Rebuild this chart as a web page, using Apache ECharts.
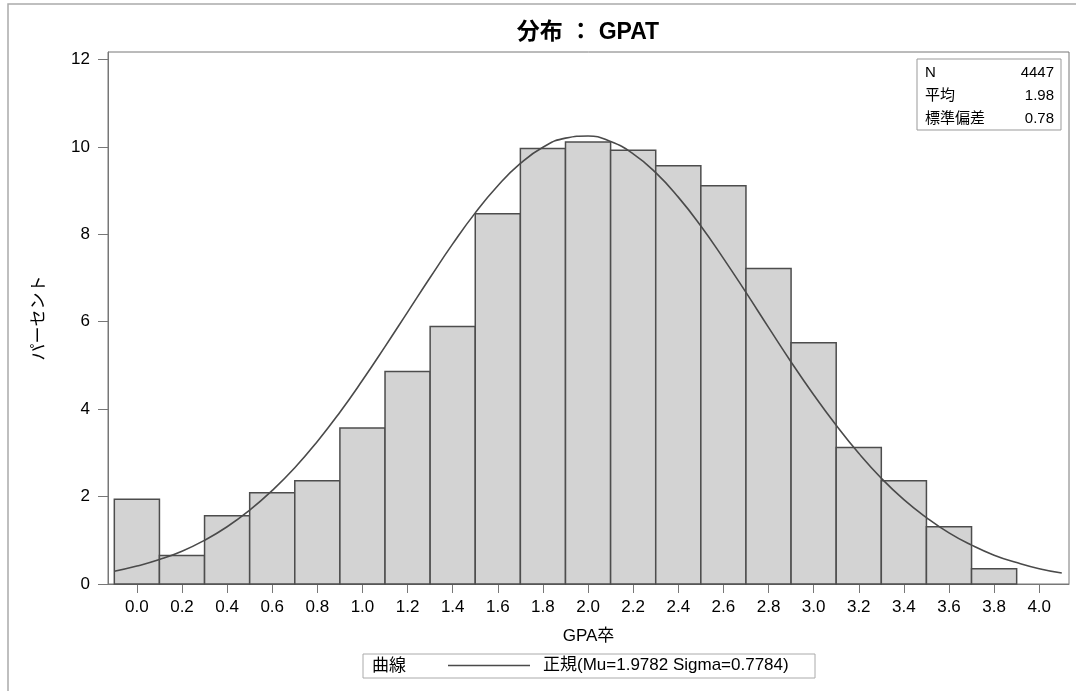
<!DOCTYPE html>
<html>
<head>
<meta charset="utf-8">
<script src="https://cdn.jsdelivr.net/npm/echarts@6/dist/echarts.min.js"></script>
<style>
html,body{margin:0;padding:0;background:#fff;}
#chart{width:1076px;height:691px;}
</style>
</head>
<body>
<div id="chart"></div>
<script>
// ---- data ----
const titleText = '分布 ： GPAT';
const xAxisName = 'GPA卒';
const yAxisName = 'パーセント';
const binWidth = 0.2;
const binCenters = [0.0, 0.2, 0.4, 0.6, 0.8, 1.0, 1.2, 1.4, 1.6, 1.8, 2.0, 2.2, 2.4, 2.6, 2.8, 3.0, 3.2, 3.4, 3.6, 3.8];
const binPercents = [1.94, 0.65, 1.56, 2.09, 2.36, 3.57, 4.86, 5.89, 8.47, 9.96, 10.11, 9.92, 9.57, 9.11, 7.22, 5.52, 3.12, 2.36, 1.31, 0.35];
const curveX = [-0.1, 0.0, 0.1, 0.2, 0.3, 0.4, 0.5, 0.6, 0.7, 0.8, 0.9, 1.0, 1.1, 1.2, 1.3, 1.4, 1.5, 1.6, 1.7, 1.8, 1.9, 2.0, 2.1, 2.2, 2.3, 2.4, 2.5, 2.6, 2.7, 2.8, 2.9, 3.0, 3.1, 3.2, 3.3, 3.4, 3.5, 3.6, 3.7, 3.8, 3.9, 4.0, 4.1];
const curveY = [0.29, 0.41, 0.56, 0.75, 1.00, 1.31, 1.69, 2.14, 2.66, 3.26, 3.93, 4.66, 5.43, 6.22, 7.01, 7.78, 8.49, 9.11, 9.62, 9.99, 10.20, 10.25, 10.12, 9.84, 9.41, 8.85, 8.19, 7.45, 6.67, 5.87, 5.08, 4.33, 3.63, 2.99, 2.42, 1.93, 1.52, 1.17, 0.89, 0.66, 0.49, 0.35, 0.25];
const xTicks = [0.0, 0.2, 0.4, 0.6, 0.8, 1.0, 1.2, 1.4, 1.6, 1.8, 2.0, 2.2, 2.4, 2.6, 2.8, 3.0, 3.2, 3.4, 3.6, 3.8, 4.0];
const yTicks = [0, 2, 4, 6, 8, 10, 12];
const statLabels = ['N', '平均', '標準偏差'];
const statValues = ['4447', '1.98', '0.78'];
const legendTitle = '曲線';
const curveName = '正規(Mu=1.9782 Sigma=0.7784)';

// ---- chart ----
const FONT = "'Liberation Sans', 'Noto Sans CJK JP', sans-serif";
const AXIS_COLOR = '#777';
const chart = echarts.init(document.getElementById('chart'), null, {renderer: 'canvas'});

const statGraphics = [];
statLabels.forEach((lab, i) => {
  statGraphics.push({
    type: 'text', x: 925, y: 73 + i * 23, z: 11,
    style: {text: lab, font: '15px ' + FONT, fill: '#000', textAlign: 'left', textVerticalAlign: 'middle'}
  });
  statGraphics.push({
    type: 'text', x: 1054, y: 73 + i * 23, z: 11,
    style: {text: statValues[i], font: '15px ' + FONT, fill: '#000', textAlign: 'right', textVerticalAlign: 'middle'}
  });
});

const option = {
  animation: false,
  backgroundColor: '#fff',
  textStyle: {fontFamily: FONT},
  title: {
    text: titleText,
    left: 588, top: 21, textAlign: 'center', padding: 0,
    textStyle: {fontSize: 23, fontWeight: 'bold', color: '#000', fontFamily: FONT}
  },
  grid: {
    left: 108, top: 52, right: 7, bottom: 107,
    show: true, borderColor: AXIS_COLOR, borderWidth: 1, backgroundColor: 'transparent'
  },
  legend: {
    data: [curveName],
    left: 448, top: 657, padding: 0, itemGap: 0,
    icon: 'rect', itemWidth: 82, itemHeight: 1.5,
    textStyle: {fontSize: 17, color: '#000', fontFamily: FONT, padding: [0, 0, 0, 8]},
    selectedMode: false
  },
  xAxis: {
    type: 'value',
    min: -0.128, max: 4.132,
    name: xAxisName, nameLocation: 'middle', nameGap: 44,
    nameTextStyle: {fontSize: 17, color: '#000', fontFamily: FONT},
    axisLine: {show: true, onZero: false, lineStyle: {color: AXIS_COLOR, width: 1}},
    axisTick: {show: true, length: 9, customValues: xTicks, lineStyle: {color: AXIS_COLOR, width: 1}},
    axisLabel: {show: true, customValues: xTicks, margin: 15, fontSize: 17, color: '#000', fontFamily: FONT,
      formatter: v => Number(v).toFixed(1)},
    splitLine: {show: false}
  },
  yAxis: {
    type: 'value',
    min: 0, max: 12.17,
    name: yAxisName, nameLocation: 'middle', nameGap: 60,
    nameTextStyle: {fontSize: 17, color: '#000', fontFamily: FONT},
    axisLine: {show: true, onZero: false, lineStyle: {color: AXIS_COLOR, width: 1}},
    axisTick: {show: true, length: 10, customValues: yTicks, lineStyle: {color: AXIS_COLOR, width: 1}},
    axisLabel: {show: true, customValues: yTicks, margin: 18, fontSize: 17, color: '#000', fontFamily: FONT},
    splitLine: {show: false}
  },
  series: [
    {
      name: 'hist',
      type: 'custom',
      data: binCenters.map((c, i) => [c, binPercents[i]]),
      encode: {x: 0, y: 1},
      renderItem: function (params, api) {
        const c = api.value(0), v = api.value(1);
        const p0 = api.coord([c - binWidth / 2, v]);
        const p1 = api.coord([c + binWidth / 2, 0]);
        return {
          type: 'rect',
          shape: {x: p0[0], y: p0[1], width: p1[0] - p0[0], height: p1[1] - p0[1]},
          style: {fill: '#d3d3d3', stroke: '#4d4d4d', lineWidth: 1.5}
        };
      },
      z: 2
    },
    {
      name: curveName,
      type: 'line',
      data: curveX.map((x, i) => [x, curveY[i]]),
      smooth: true,
      showSymbol: false, symbol: 'none',
      lineStyle: {color: '#4a4a4a', width: 1.6},
      itemStyle: {color: '#4a4a4a'},
      z: 3
    }
  ],
  graphic: [
    {type: 'polyline', shape: {points: [[8, 691], [8, 4], [1076, 4]]}, style: {stroke: '#aaa', lineWidth: 1.5, fill: null}, silent: true},
    {type: 'rect', z: 10, shape: {x: 917, y: 59, width: 144, height: 71}, style: {fill: '#fff', stroke: '#999', lineWidth: 1}},
    ...statGraphics,
    {type: 'rect', shape: {x: 363, y: 654, width: 452, height: 24}, style: {fill: null, stroke: '#aaa', lineWidth: 1}},
    {type: 'text', x: 372, y: 666, style: {text: legendTitle, font: '17px ' + FONT, fill: '#000', textAlign: 'left', textVerticalAlign: 'middle'}}
  ]
};
chart.setOption(option);
</script>
</body>
</html>
